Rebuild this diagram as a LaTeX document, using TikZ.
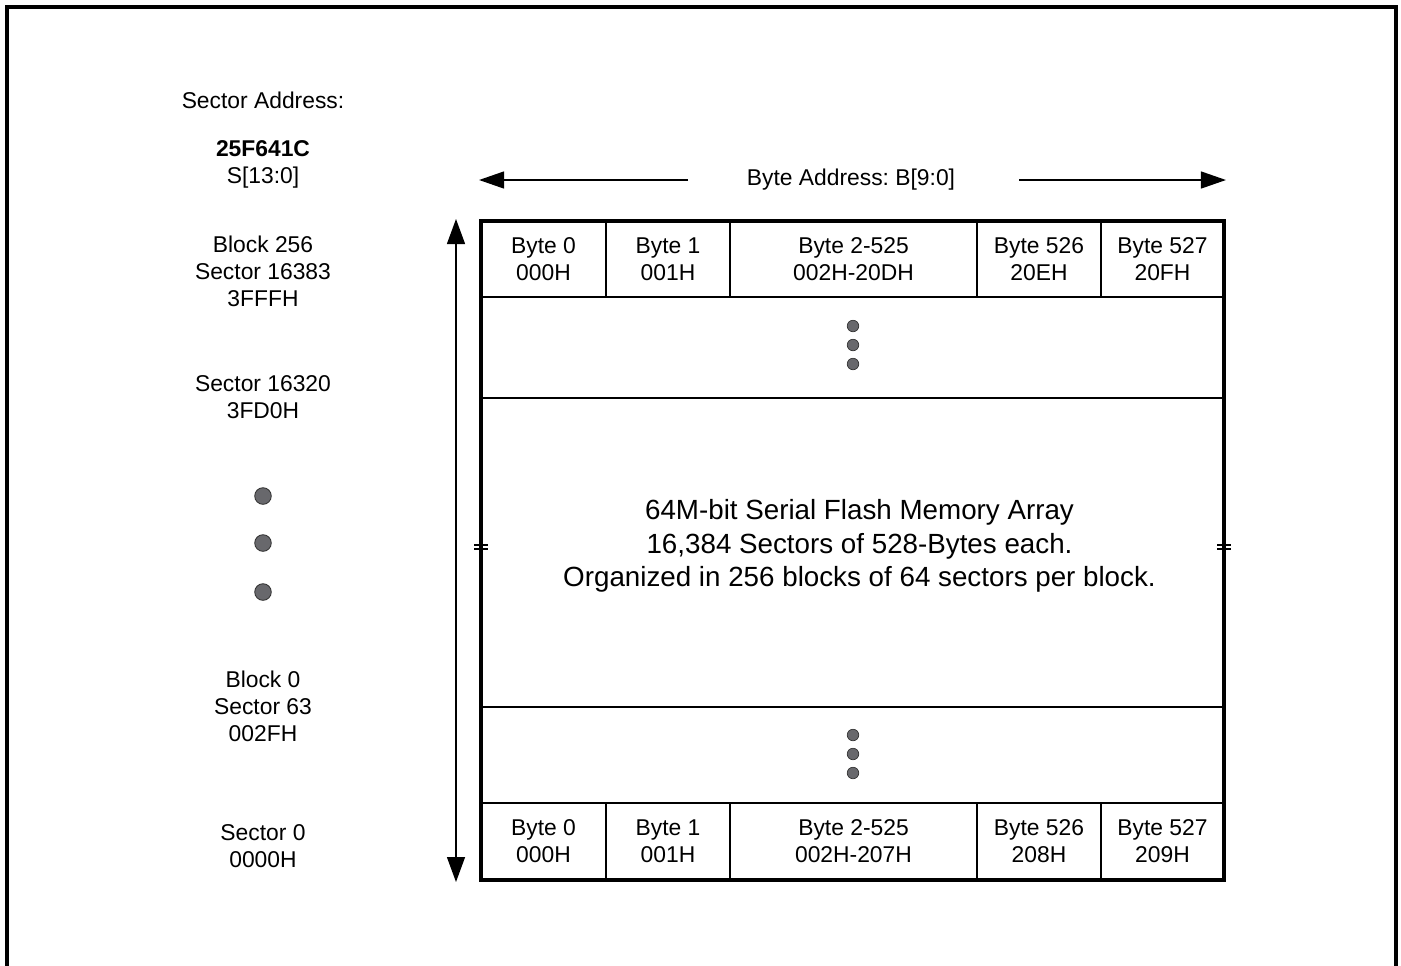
\documentclass[tikz,border=0pt]{standalone}
\usepackage{fontspec}
\setmainfont{Liberation Sans}
\usetikzlibrary{arrows.meta, positioning}
\definecolor{dotgray}{RGB}{104,104,108}
\frenchspacing

\begin{document}
\begin{tikzpicture}[x=0.02cm, y=-0.02cm,
    lbl/.style={align=center, font=\fontsize{13}{15.3}\selectfont, inner sep=0pt},
    big/.style={align=center, font=\fontsize{15.8}{19}\selectfont, inner sep=0pt},
    grid/.style={line width=1.4pt},
    tip/.style={-{Triangle[length=0.5cm, width=0.34cm]}, line width=0.75pt}]
    \useasboundingbox (0,0) rectangle (1401,965);

    % --- Outer frame (open at the bottom) ---
    \draw[line width=2pt] (7,990) -- (7,7) -- (1396,7) -- (1396,990);

    % --- Left column: sector addresses ---
    \node[lbl] (head) at (263,100) {Sector Address:};
    \node[lbl] (dev) at (263,164) {\textbf{25F641C}\\S[13:0]};
    \node[lbl] (blk256) at (263,271) {Block 256\\Sector 16383\\3FFFH};
    \node[lbl] (sec16320) at (263,397.5) {Sector 16320\\3FD0H};
    \foreach \y in {496,543,592}
        \fill[dotgray, draw=black!80, line width=0.5pt] (263,\y) circle[radius=0.166cm];
    \node[lbl] (blk0) at (263,706) {Block 0\\Sector 63\\002FH};
    \node[lbl] (sec0) at (263,846.5) {Sector 0\\0000H};

    % --- Memory array ---
    \node[draw, line width=2.3pt, minimum width=14.86cm, minimum height=13.18cm, inner sep=0pt] (array) at (852.5,550.5) {};
    \foreach \y in {297,398,707,803}
        \draw[grid] (array.west |- 0,\y) -- (array.east |- 0,\y);
    \foreach \x in {606,730,977,1101} {
        \draw[grid] (\x,221) -- (\x,297);
        \draw[grid] (\x,803) -- (\x,880);
    }
    \foreach \n/\cx/\hd/\ta/\ba in {1/543.5/Byte 0/000H/000H, 2/668/Byte 1/001H/001H,
        3/853.5/Byte 2-525/002H-20DH/002H-207H, 4/1039/Byte 526/20EH/208H, 5/1162.5/Byte 527/20FH/209H} {
        \node[lbl] (top\n) at (\cx,259.5) {\hd\\\ta};
        \node[lbl] (bot\n) at (\cx,841.5) {\hd\\\ba};
    }
    \foreach \y in {326,345,364,735,754,773}
        \fill[dotgray, draw=black!80, line width=0.4pt] (853,\y) circle[radius=0.115cm];
    \node[big] (desc) at (859.5,546) {64M-bit Serial Flash Memory Array\\16,384 Sectors of 528-Bytes each.\\Organized in 256 blocks of 64 sectors per block.};

    % --- Break marks on the sides ---
    \foreach \x in {481,1224}
        \foreach \y in {545,549}
            \draw[line width=0.6pt] (\x-7,\y) -- (\x+7,\y);

    % --- Byte address arrows ---
    \node[lbl] (addr) at (851,180) {Byte Address: B[9:0]};
    \coordinate (al) at (688,180);
    \coordinate (ar) at (1019,180);
    \draw[tip] (al) -- (array.west |- al);
    \draw[tip] (ar) -- (array.east |- ar);

    % --- Sector address arrow ---
    \coordinate (vtop) at (456,219);
    \coordinate (vbot) at (456,882);
    \draw[line width=0.75pt, {Triangle[length=0.5cm, width=0.36cm]}-{Triangle[length=0.5cm, width=0.36cm]}] (vbot) -- (vtop);
\end{tikzpicture}
\end{document}
